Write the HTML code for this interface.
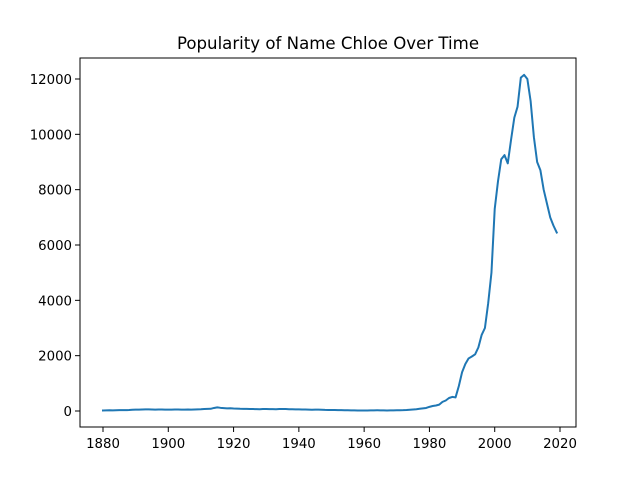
<!DOCTYPE html>
<html><head><meta charset="utf-8"><style>
body{margin:0;background:#fff;}
svg text{font-family:"DejaVu Sans","Liberation Sans",sans-serif;fill:#000;}
</style></head><body>
<svg id="chart" width="640" height="480">
<rect width="640" height="480" fill="#fff"/>
<text x="328" y="49" font-size="16.6" text-anchor="middle">Popularity of Name Chloe Over Time</text>
<path id="line" fill="none" stroke="#1f77b4" stroke-width="2" stroke-linejoin="round" stroke-linecap="square"/>
<rect x="80" y="58" width="496" height="369" fill="none" stroke="#000" stroke-width="1"/>
<g id="ticks"></g>
</svg>
<script>
const startYear = 1880;
const counts = [
20,22,25,24,28,30,32,30,35,45,50,48,55,60,58,55,50,52,55,50,
48,50,52,55,50,48,52,50,55,60,62,70,75,80,110,130,115,105,95,100,
90,85,80,78,75,72,70,68,65,70,72,68,66,64,70,72,70,65,62,60,
58,55,52,48,45,50,48,45,40,38,36,34,32,30,28,25,24,22,20,20,
20,20,22,24,25,24,22,20,22,24,25,28,30,35,45,55,65,80,95,110,
150,180,200,230,330,380,470,510,490,900,1400,1700,1900,1970,2050,2300,2750,3000,3900,5000,
7300,8300,9100,9250,8950,9800,10600,11000,12050,12150,12000,11200,9900,9000,8700,8000,7500,7000,6700,6450];
const xTicks = [1880,1900,1920,1940,1960,1980,2000,2020];
const yTicks = [0,2000,4000,6000,8000,10000,12000];
const X = yr => 103 + (yr - 1880) * (457 / 140);
const Y = v => 411 - v * (332 / 12000);
const ns = "http://www.w3.org/2000/svg";
let d = "";
counts.forEach((v, i) => { d += (i ? "L" : "M") + X(startYear + i).toFixed(2) + " " + Y(v).toFixed(2); });
document.getElementById("line").setAttribute("d", d);
const g = document.getElementById("ticks");
xTicks.forEach(t => {
  const l = document.createElementNS(ns, "line");
  l.setAttribute("x1", X(t)); l.setAttribute("x2", X(t));
  l.setAttribute("y1", 427); l.setAttribute("y2", 432);
  l.setAttribute("stroke", "#000"); l.setAttribute("stroke-width", "1");
  
  
  g.appendChild(l);
  const tx = document.createElementNS(ns, "text");
  tx.setAttribute("x", X(t)); tx.setAttribute("y", 448);
  tx.setAttribute("font-size", "13.3"); tx.setAttribute("text-anchor", "middle");
  tx.textContent = t;
  
  
  g.appendChild(tx);
});
yTicks.forEach(t => {
  const l = document.createElementNS(ns, "line");
  l.setAttribute("x1", 75); l.setAttribute("x2", 80);
  l.setAttribute("y1", Y(t)); l.setAttribute("y2", Y(t));
  l.setAttribute("stroke", "#000"); l.setAttribute("stroke-width", "1");
  
  
  g.appendChild(l);
  const tx = document.createElementNS(ns, "text");
  tx.setAttribute("x", 72); tx.setAttribute("y", Y(t) + 5);
  tx.setAttribute("font-size", "13.3"); tx.setAttribute("text-anchor", "end");
  tx.textContent = t;
  
  
  g.appendChild(tx);
});
</script>
</body></html>
